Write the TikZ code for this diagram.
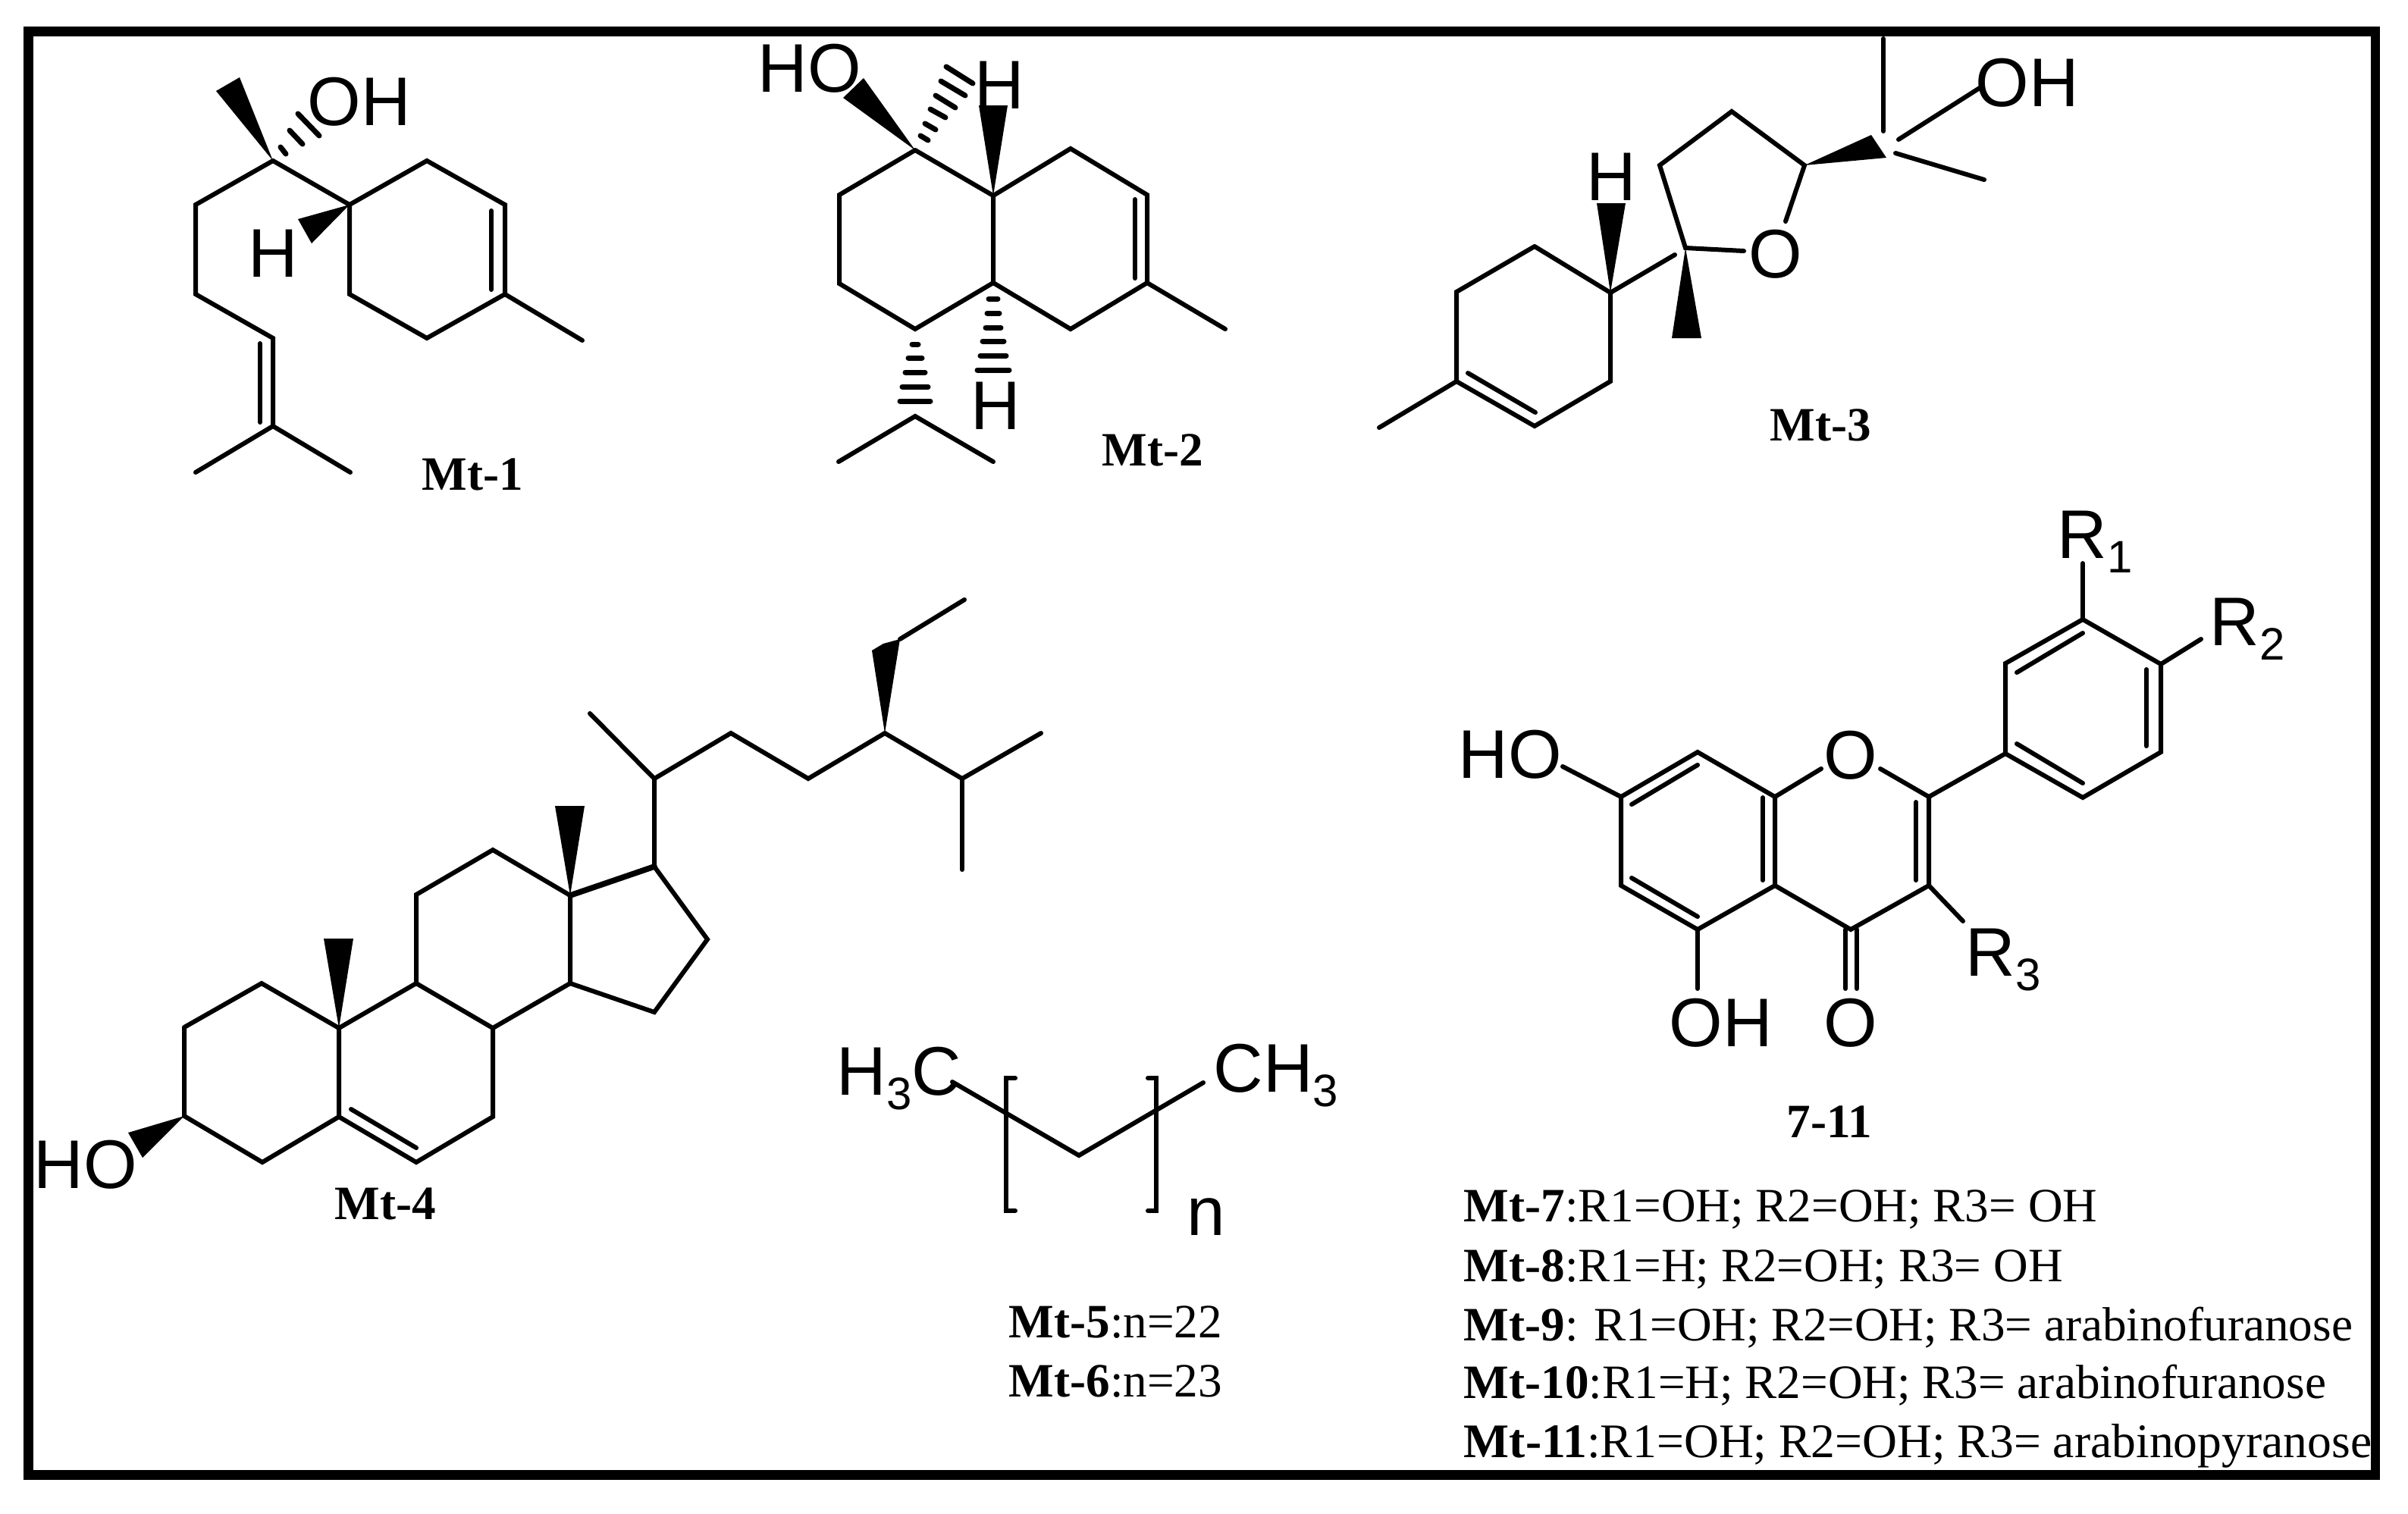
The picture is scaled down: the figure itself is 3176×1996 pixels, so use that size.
\documentclass[tikz,border=0pt]{standalone}
\usepackage{fontspec}
\setmainfont{Liberation Serif}
\newfontfamily\atomfont{Liberation Sans}
\tikzset{
  bond/.style={line width=1.5pt,line cap=round},
  hashbond/.style={line width=1.75pt,line cap=round},
  wedgebond/.style={fill=black},
  atomlab/.style={inner sep=0pt,anchor=base,font=\atomfont\fontsize{22.7}{24}\selectfont},
  grouplab/.style={atomlab,anchor=base west},
  cpdlab/.style={inner sep=0pt,anchor=base west,font=\fontsize{15.8}{18}\selectfont},
}
\newcommand{\subdigit}[1]{\raisebox{-4.8pt}{\fontsize{15}{15}\selectfont #1}}
\begin{document}
\begin{tikzpicture}[x=0.25pt,y=-0.25pt]
    \useasboundingbox (0,0) rectangle (3176,1996);

    % Draw frame
    \coordinate (frameA) at (37.5,41.5);
    \coordinate (frameB) at (3133,1945.5);
    \draw[line width=3.1pt] (frameA) rectangle (frameB);

    % Mt-1
    \coordinate (a1) at (360,212); \coordinate (a2) at (258,270); \coordinate (a3) at (258,388);
    \coordinate (a4) at (360,446); \coordinate (a5) at (360,562); \coordinate (a6) at (258,623);
    \coordinate (a7) at (462,623); \coordinate (a8) at (461,270); \coordinate (a9) at (563,212);
    \coordinate (a10) at (666,270); \coordinate (a11) at (666,388); \coordinate (a12) at (563,446);
    \coordinate (a13) at (461,388); \coordinate (a14) at (768,449);
    \coordinate (a15) at (648,278); \coordinate (a16) at (648,382);
    \coordinate (a17) at (343,453); \coordinate (a18) at (343,557);
    \coordinate (a19) at (316,102); \coordinate (a20) at (285,120);
    \coordinate (a21) at (393,289); \coordinate (a22) at (411,321);
    \draw[bond] (a1) -- (a2) -- (a3) -- (a4) -- (a5) -- (a6);
    \draw[bond] (a5) -- (a7);
    \draw[bond] (a1) -- (a8) -- (a9) -- (a10) -- (a11) -- (a12) -- (a13) -- (a8);
    \draw[bond] (a11) -- (a14);
    \draw[bond] (a15) -- (a16);
    \draw[bond] (a17) -- (a18);
    \fill[wedgebond] (a1) -- (a19) -- (a20) -- cycle;
    \fill[wedgebond] (a8) -- (a21) -- (a22) -- cycle;
    \draw[hashbond] (370,194) -- (377,203);
    \draw[hashbond] (382,172) -- (399,190);
    \draw[hashbond] (393,150) -- (421,179);
    \node[atomlab] (a1oh) at (474,165) {OH};
    \node[atomlab] (a1h) at (360,365) {H};
    \node[cpdlab] (mt1) at (556,646) {\textbf{Mt-1}};

    % Mt-2
    \coordinate (b1) at (1207,198); \coordinate (b2) at (1107,257); \coordinate (b3) at (1107,374);
    \coordinate (b4) at (1207,434); \coordinate (b5) at (1310,373); \coordinate (b6) at (1310,258);
    \coordinate (b7) at (1412,196); \coordinate (b8) at (1513,257); \coordinate (b9) at (1513,373);
    \coordinate (b10) at (1412,434); \coordinate (b11) at (1616,434);
    \coordinate (b12) at (1207,549); \coordinate (b13) at (1106,609); \coordinate (b14) at (1310,609);
    \coordinate (b15) at (1497,263); \coordinate (b16) at (1497,367);
    \coordinate (b17) at (1291,139); \coordinate (b18) at (1329,139);
    \coordinate (b19) at (1139,103); \coordinate (b20) at (1112,129);
    \draw[bond] (b1) -- (b2) -- (b3) -- (b4) -- (b5) -- (b6) -- (b1);
    \draw[bond] (b6) -- (b7) -- (b8) -- (b9) -- (b10) -- (b5);
    \draw[bond] (b9) -- (b11);
    \draw[bond] (b13) -- (b12) -- (b14);
    \draw[bond] (b15) -- (b16);
    \fill[wedgebond] (b6) -- (b17) -- (b18) -- cycle;
    \fill[wedgebond] (b1) -- (b19) -- (b20) -- cycle;
    \draw[hashbond] (1214,179) -- (1224,185);
    \draw[hashbond] (1220,163) -- (1234,171);
    \draw[hashbond] (1227,144) -- (1247,155);
    \draw[hashbond] (1234,126) -- (1260,142);
    \draw[hashbond] (1241,107) -- (1273,126);
    \draw[hashbond] (1248,88) -- (1283,110);
    \foreach \y/\w in {454/4,472/9,491/13,510/17,529/20}
        \draw[hashbond] (1207-\w,\y) -- (1207+\w,\y);
    \foreach \y/\w in {394/6,413/8,432/10,450/14,469/17,488/21}
        \draw[hashbond] (1310-\w,\y) -- (1310+\w,\y);
    \node[atomlab] (b1ho) at (1068,121) {HO};
    \node[atomlab] (b1h) at (1318,143) {H};
    \node[atomlab] (b2h) at (1313,566) {H};
    \node[cpdlab] (mt2) at (1453,614) {\textbf{Mt-2}};

    % Mt-3
    \coordinate (c1) at (2024,325); \coordinate (c2) at (1921,385); \coordinate (c3) at (1921,503);
    \coordinate (c4) at (2024,562); \coordinate (c5) at (2124,503); \coordinate (c6) at (2124,386);
    \coordinate (c7) at (1819,564); \coordinate (c8) at (1936,492); \coordinate (c9) at (2025,544);
    \coordinate (c10) at (2106,268); \coordinate (c11) at (2144,268); \coordinate (c12) at (2209,336);
    \coordinate (c13) at (2223,327); \coordinate (c14) at (2189,218); \coordinate (c15) at (2284,147);
    \coordinate (c16) at (2380,218); \coordinate (c17) at (2355,292); \coordinate (c18) at (2300,331);
    \coordinate (c19) at (2205,446); \coordinate (c20) at (2244,446);
    \coordinate (c21) at (2468,178); \coordinate (c22) at (2488,208);
    \coordinate (c23) at (2484,173); \coordinate (c24) at (2484,51);
    \coordinate (c25) at (2504,184); \coordinate (c26) at (2611,116);
    \coordinate (c27) at (2500,202); \coordinate (c28) at (2617,237);
    \draw[bond] (c1) -- (c2) -- (c3) -- (c4) -- (c5) -- (c6) -- (c1);
    \draw[bond] (c3) -- (c7);
    \draw[bond] (c8) -- (c9);
    \draw[bond] (c6) -- (c12);
    \draw[bond] (c18) -- (c13) -- (c14) -- (c15) -- (c16) -- (c17);
    \draw[bond] (c23) -- (c24);
    \draw[bond] (c25) -- (c26);
    \draw[bond] (c27) -- (c28);
    \fill[wedgebond] (c6) -- (c10) -- (c11) -- cycle;
    \fill[wedgebond] (c13) -- (c19) -- (c20) -- cycle;
    \fill[wedgebond] (c16) -- (c21) -- (c22) -- cycle;
    \node[atomlab] (c1h) at (2125,264) {H};
    \node[atomlab] (c1o) at (2342,366) {O};
    \node[atomlab] (c1oh) at (2674,140) {OH};
    \node[cpdlab] (mt3) at (2334,581) {\textbf{Mt-3}};

    % Mt-4
    \coordinate (d1) at (243,1355); \coordinate (d2) at (243,1472); \coordinate (d3) at (346,1533);
    \coordinate (d4) at (447,1473); \coordinate (d5) at (447,1356); \coordinate (d6) at (345,1297);
    \coordinate (d7) at (549,1297); \coordinate (d8) at (650,1356); \coordinate (d9) at (650,1473);
    \coordinate (d10) at (549,1533); \coordinate (d11) at (549,1180); \coordinate (d12) at (650,1121);
    \coordinate (d13) at (752,1181); \coordinate (d14) at (752,1297); \coordinate (d15) at (863,1143);
    \coordinate (d16) at (933,1239); \coordinate (d17) at (863,1335); \coordinate (d18) at (863,1027);
    \coordinate (d19) at (778,941); \coordinate (d20) at (964,967); \coordinate (d21) at (1066,1027);
    \coordinate (d22) at (1167,967); \coordinate (d23) at (1269,1027); \coordinate (d24) at (1373,967);
    \coordinate (d25) at (1269,1147); \coordinate (d26) at (1187,843); \coordinate (d27) at (1272,791);
    \coordinate (d28) at (1150,858); \coordinate (d29) at (1165,849);
    \coordinate (d30) at (463,1463); \coordinate (d31) at (549,1514);
    \coordinate (d32) at (169,1494); \coordinate (d33) at (188,1527);
    \coordinate (d34) at (427,1238); \coordinate (d35) at (466,1238);
    \coordinate (d36) at (732,1063); \coordinate (d37) at (771,1063);
    \draw[bond] (d1) -- (d2) -- (d3) -- (d4) -- (d5) -- (d6) -- (d1);
    \draw[bond] (d5) -- (d7) -- (d8) -- (d9) -- (d10) -- (d4);
    \draw[bond] (d7) -- (d11) -- (d12) -- (d13) -- (d14) -- (d8);
    \draw[bond] (d13) -- (d15) -- (d16) -- (d17) -- (d14);
    \draw[bond,line width=1.9pt] (d13) -- (d15);
    \draw[bond] (d15) -- (d18) -- (d19);
    \draw[bond] (d18) -- (d20) -- (d21) -- (d22) -- (d23) -- (d24);
    \draw[bond] (d23) -- (d25);
    \draw[bond] (d26) -- (d27);
    \draw[bond] (d30) -- (d31);
    \fill[wedgebond] (d22) -- (d28) -- (d29) -- (d26) -- cycle;
    \fill[wedgebond] (d2) -- (d32) -- (d33) -- cycle;
    \fill[wedgebond] (d5) -- (d34) -- (d35) -- cycle;
    \fill[wedgebond] (d13) -- (d36) -- (d37) -- cycle;
    \node[atomlab] (d1ho) at (113,1567) {HO};
    \node[cpdlab] (mt4) at (441,1608) {\textbf{Mt-4}};

    % Mt-5, Mt-6
    \coordinate (e1) at (1256,1427); \coordinate (e2) at (1423,1524); \coordinate (e3) at (1587,1428);
    \coordinate (e4) at (1339,1422); \coordinate (e5) at (1327,1422);
    \coordinate (e6) at (1327,1597); \coordinate (e7) at (1339,1597);
    \coordinate (e8) at (1514,1422); \coordinate (e9) at (1525,1422);
    \coordinate (e10) at (1525,1597); \coordinate (e11) at (1514,1597);
    \draw[bond] (e1) -- (e2) -- (e3);
    \draw[bond] (e4) -- (e5) -- (e6) -- (e7);
    \draw[bond] (e8) -- (e9) -- (e10) -- (e11);
    \node[grouplab] (e1ch) at (1103,1444) {H\subdigit{3}C};
    \node[grouplab] (e2ch) at (1600,1440) {CH\subdigit{3}};
    \node[atomlab] (e1n) at (1591,1629) {n};
    \node[cpdlab] (mt5) at (1330,1764) {\textbf{Mt-5}:n=22};
    \node[cpdlab] (mt6) at (1330,1842) {\textbf{Mt-6}:n=23};

    % 7-11
    \coordinate (f1) at (2239,992); \coordinate (f2) at (2138,1051); \coordinate (f3) at (2138,1168);
    \coordinate (f4) at (2239,1226); \coordinate (f5) at (2341,1168); \coordinate (f6) at (2341,1051);
    \coordinate (f7) at (2402,1014); \coordinate (f8) at (2480,1014); \coordinate (f9) at (2544,1051);
    \coordinate (f10) at (2544,1168); \coordinate (f11) at (2441,1226);
    \coordinate (f12) at (2239,1304); \coordinate (f13) at (2061,1011);
    \coordinate (f14) at (2645,994); \coordinate (f15) at (2645,875); \coordinate (f16) at (2747,817);
    \coordinate (f17) at (2850,876); \coordinate (f18) at (2850,992); \coordinate (f19) at (2747,1052);
    \coordinate (f20) at (2747,743); \coordinate (f21) at (2903,843); \coordinate (f22) at (2589,1215);
    \coordinate (f23) at (2434,1226); \coordinate (f24) at (2434,1304);
    \coordinate (f25) at (2449,1226); \coordinate (f26) at (2449,1304);
    \coordinate (f27) at (2152,1061); \coordinate (f28) at (2239,1009);
    \coordinate (f29) at (2152,1158); \coordinate (f30) at (2239,1209);
    \coordinate (f31) at (2325,1052); \coordinate (f32) at (2325,1161);
    \coordinate (f33) at (2527,1058); \coordinate (f34) at (2527,1161);
    \coordinate (f35) at (2660,887); \coordinate (f36) at (2747,835);
    \coordinate (f37) at (2831,883); \coordinate (f38) at (2831,984);
    \coordinate (f39) at (2660,981); \coordinate (f40) at (2747,1033);
    \draw[bond] (f7) -- (f6) -- (f1) -- (f2) -- (f3) -- (f4) -- (f5) -- (f6);
    \draw[bond] (f5) -- (f11) -- (f10) -- (f9) -- (f8);
    \draw[bond] (f9) -- (f14) -- (f15) -- (f16) -- (f17) -- (f18) -- (f19) -- (f14);
    \draw[bond] (f4) -- (f12);
    \draw[bond] (f2) -- (f13);
    \draw[bond] (f16) -- (f20);
    \draw[bond] (f17) -- (f21);
    \draw[bond] (f10) -- (f22);
    \draw[bond] (f23) -- (f24);
    \draw[bond] (f25) -- (f26);
    \draw[bond] (f27) -- (f28);
    \draw[bond] (f29) -- (f30);
    \draw[bond] (f31) -- (f32);
    \draw[bond] (f33) -- (f34);
    \draw[bond] (f35) -- (f36);
    \draw[bond] (f37) -- (f38);
    \draw[bond] (f39) -- (f40);
    \node[atomlab] (f1ho) at (1992,1026) {HO};
    \node[atomlab] (f1o) at (2441,1027) {O};
    \node[atomlab] (f2oh) at (2270,1380) {OH};
    \node[atomlab] (f2o) at (2441,1380) {O};
    \node[grouplab] (fr1) at (2713,736) {R\subdigit{1}};
    \node[grouplab] (fr2) at (2914,851) {R\subdigit{2}};
    \node[grouplab] (fr3) at (2592,1287) {R\subdigit{3}};
    \node[cpdlab] (cpd) at (2356,1500) {\textbf{7-11}};

    % Draw R group list
    \node[cpdlab] (mt7) at (1930,1611) {\textbf{Mt-7}:R1=OH; R2=OH; R3= OH};
    \node[cpdlab] (mt8) at (1930,1690) {\textbf{Mt-8}:R1=H; R2=OH; R3= OH};
    \node[cpdlab] (mt9) at (1930,1768) {\textbf{Mt-9}: R1=OH; R2=OH; R3= arabinofuranose};
    \node[cpdlab] (mt10) at (1930,1844) {\textbf{Mt-10}:R1=H; R2=OH; R3= arabinofuranose};
    \node[cpdlab,font=\fontsize{15.9}{18}\selectfont] (mt11) at (1930,1922) {\textbf{Mt-11}:R1=OH; R2=OH; R3= arabinopyranose};
\end{tikzpicture}
\end{document}
